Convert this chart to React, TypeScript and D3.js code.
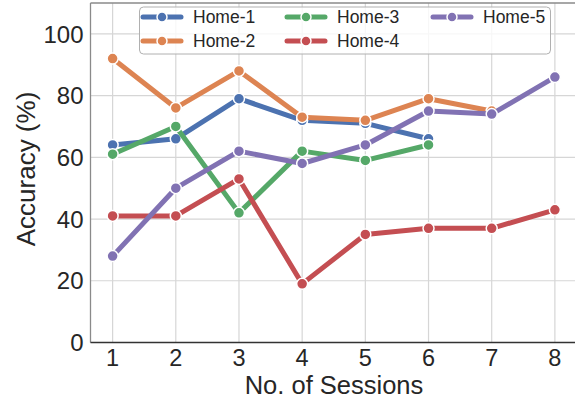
import React from "react";
import * as d3 from "d3";

const sessions = [1, 2, 3, 4, 5, 6, 7, 8];
const seriesNames = ["Home-1", "Home-2", "Home-3", "Home-4", "Home-5"];
const home1 = [64, 66, 79, 72, 71, 66];
const home2 = [92, 76, 88, 73, 72, 79, 75];
const home3 = [61, 70, 42, 62, 59, 64];
const home4 = [41, 41, 53, 19, 35, 37, 37, 43];
const home5 = [28, 50, 62, 58, 64, 75, 74, 86];
const yTicks = [0, 20, 40, 60, 80, 100];
const colors = ["#4C72B0", "#DD8452", "#55A868", "#C44E52", "#8172B3"];

const W = 575;
const H = 402;
const margin = { left: 90.5, right: -2, top: 3, bottom: 59.5 };

export default function App() {
  const allSeries = [home1, home2, home3, home4, home5];
  const x = d3.scaleLinear().domain([0.65, 8.35]).range([margin.left, W - margin.right]);
  const y = d3.scaleLinear().domain([0, 110]).range([H - margin.bottom, margin.top]);
  const line = d3
    .line<number>()
    .x((_, i) => x(sessions[i]))
    .y((d) => y(d));
  const font = "'Liberation Sans', Arial, sans-serif";

  const legendItems = seriesNames.map((n, i) => ({
    name: n,
    color: colors[i],
    col: Math.floor(i / 2),
    row: i % 2,
  }));
  const colX = [143, 287, 433];
  const rowY = [17, 41];

  return (
    <svg
      width={W}
      height={H}
      style={{ position: "absolute", left: 0, top: 0, background: "white" }}
      fontFamily={font}
    >
      <rect x={0} y={0} width={W} height={H} fill="white" />
      {/* grid */}
      {sessions.map((s) => (
        <line key={"gx" + s} x1={x(s)} x2={x(s)} y1={y(110)} y2={y(0)} stroke="#d6d6d6" strokeWidth={1.2} />
      ))}
      {yTicks.map((t) => (
        <line key={"gy" + t} x1={margin.left} x2={W} y1={y(t)} y2={y(t)} stroke="#d6d6d6" strokeWidth={1.2} />
      ))}
      {/* spines */}
      <line x1={margin.left} x2={margin.left} y1={y(110)} y2={y(0)} stroke="#8a8a8a" strokeWidth={1.3} />
      <line x1={margin.left} x2={W} y1={y(110)} y2={y(110)} stroke="#8a8a8a" strokeWidth={1.3} />
      <line x1={margin.left} x2={W} y1={y(0)} y2={y(0)} stroke="#333" strokeWidth={1.5} />
      {/* tick labels */}
      {yTicks.map((t) => (
        <text key={"yt" + t} x={margin.left - 7} y={y(t)} dy="0.36em" textAnchor="end" fontSize={24} fill="#262626">
          {t}
        </text>
      ))}
      {sessions.map((s) => (
        <text key={"xt" + s} x={x(s)} y={366} textAnchor="middle" fontSize={23.5} fill="#262626">
          {s}
        </text>
      ))}
      <text x={334} y={394} textAnchor="middle" fontSize={25.5} fill="#262626">
        No. of Sessions
      </text>
      <text
        transform={`translate(35, 169) rotate(-90)`}
        textAnchor="middle"
        fontSize={26}
        fill="#262626"
      >
        Accuracy (%)
      </text>
      {/* series */}
      {allSeries.map((vals, si) => (
        <g key={"s" + si}>
          <path d={line(vals) ?? ""} fill="none" stroke={colors[si]} strokeWidth={5} strokeLinejoin="round" />
          {vals.map((v, i) => (
            <circle key={i} cx={x(sessions[i])} cy={y(v)} r={5.5} fill={colors[si]} stroke="white" strokeWidth={1.5} />
          ))}
        </g>
      ))}
      {/* legend */}
      <rect x={139.5} y={7} width={411} height={47} rx={4} fill="white" fillOpacity={0.8} stroke="#b0b0b0" strokeWidth={1} />
      {legendItems.map((it) => {
        const lx = colX[it.col];
        const ly = rowY[it.row];
        return (
          <g key={it.name}>
            <line x1={lx} x2={lx + 38} y1={ly} y2={ly} stroke={it.color} strokeWidth={5} strokeLinecap="round" />
            <circle cx={lx + 19} cy={ly} r={5} fill={it.color} stroke="white" strokeWidth={1.5} />
            <text x={lx + 50} y={ly} dy="0.36em" fontSize={17.5} fill="#262626">
              {it.name}
            </text>
          </g>
        );
      })}
    </svg>
  );
}
